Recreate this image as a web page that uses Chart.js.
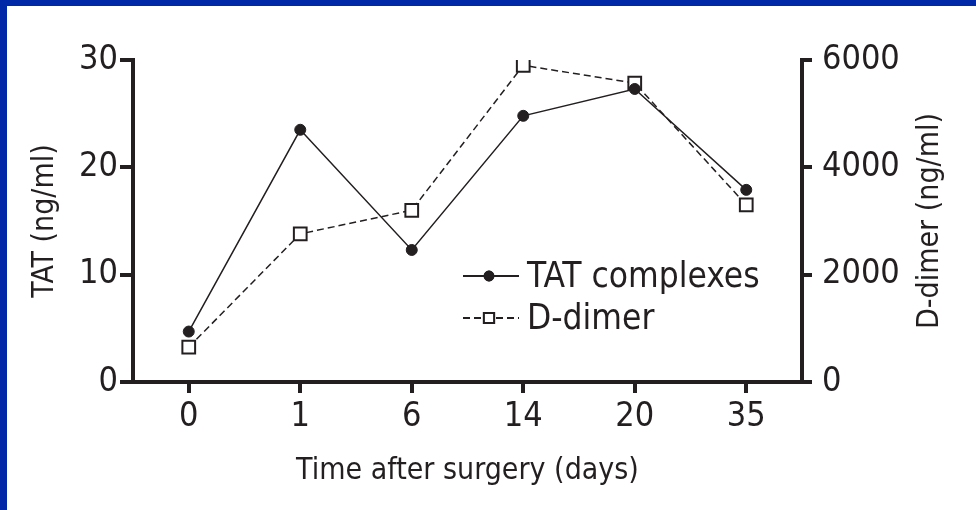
<!DOCTYPE html>
<html>
<head>
<meta charset="utf-8">
<script src="https://cdn.jsdelivr.net/npm/chart.js@4/dist/chart.umd.min.js"></script>
<style>
    html, body { margin: 0; padding: 0; background: #0029a8; }
    #wrap { position: absolute; left: 7px; top: 6px; width: 969px; height: 504px; background: #fff; }
</style>
</head>
<body>
<div id="wrap"><canvas id="canvas1"></canvas></div>
<script>
// data
var days = ["0", "1", "6", "14", "20", "35"];
var tatValues = [4.7, 23.5, 12.3, 24.8, 27.3, 17.9];       // ng/ml, left axis
var ddimerValues = [650, 2760, 3200, 5900, 5570, 3300];     // ng/ml, right axis
var tatTicks = [0, 10, 20, 30];
var ddimerTicks = [0, 2000, 4000, 6000];

var ink = '#231f20';
var fontFamily = '"Liberation Sans Narrow", "DejaVu Sans Condensed", sans-serif';

Chart.defaults.font.family = fontFamily;
Chart.defaults.color = ink;

// right axis title (reads bottom to top) and the in-plot legend
var extras = {
    id: 'extras',
    afterDraw: function(chart) {
        var ctx = chart.ctx;
        var area = chart.chartArea;
        ctx.save();
        ctx.fillStyle = ink;
        ctx.font = '30px ' + fontFamily;
        ctx.textAlign = 'center';
        ctx.textBaseline = 'middle';
        ctx.translate(923, (area.top + area.bottom) / 2);
        ctx.rotate(-Math.PI / 2);
        ctx.fillText('D-dimer (ng/ml)', 0, 0);
        ctx.restore();

        var rows = [{ y: 270, ds: chart.data.datasets[0] }, { y: 312, ds: chart.data.datasets[1] }];
        ctx.save();
        rows.forEach(function(r) {
            ctx.strokeStyle = ink;
            ctx.lineWidth = 2;
            ctx.setLineDash(r.ds.borderDash || []);
            ctx.beginPath();
            ctx.moveTo(456, r.y);
            ctx.lineTo(512, r.y);
            ctx.stroke();
            ctx.setLineDash([]);
            Chart.helpers.drawPoint(ctx, {
                pointStyle: r.ds.pointStyle,
                radius: r.ds.pointRadius * 0.8,
                borderWidth: r.ds.pointBorderWidth
            }, 482, r.y);
            ctx.fillStyle = r.ds.pointBackgroundColor;
            ctx.fill();
            ctx.stroke();
            ctx.fillStyle = ink;
            ctx.font = '35px ' + fontFamily;
            ctx.textAlign = 'left';
            ctx.textBaseline = 'middle';
            ctx.fillText(r.ds.label, 520, r.y + 2);
        });
        ctx.restore();
    }
};

var ctx = document.getElementById("canvas1").getContext("2d");
window.myLine = new Chart(ctx, {
    type: 'line',
    data: {
        labels: days,
        datasets: [{
            label: 'TAT complexes',
            data: tatValues,
            yAxisID: 'y',
            borderColor: ink,
            borderWidth: 1.5,
            pointStyle: 'circle',
            pointRadius: 5.5,
            pointBorderWidth: 1,
            pointBackgroundColor: ink,
            pointBorderColor: ink,
            tension: 0
        }, {
            label: 'D-dimer',
            data: ddimerValues,
            yAxisID: 'y1',
            borderColor: ink,
            borderWidth: 1.5,
            borderDash: [7, 4],
            pointStyle: 'rect',
            pointRadius: 9,
            pointBorderWidth: 2,
            pointBackgroundColor: '#fff',
            pointBorderColor: ink,
            tension: 0
        }]
    },
    options: {
        responsive: true,
        maintainAspectRatio: false,
        animation: false,
        layout: { padding: { top: 54, right: 0, left: 0, bottom: 17 } },
        plugins: {
            legend: { display: false },
            tooltip: { enabled: false }
        },
        scales: {
            x: {
                type: 'category',
                offset: true,
                border: { display: true, width: 4, color: ink },
                grid: { drawOnChartArea: false, drawTicks: true, tickLength: 11, lineWidth: 4, color: ink },
                ticks: { font: { size: 34 }, color: ink, padding: 4 },
                title: { display: true, text: 'Time after surgery (days)', font: { size: 30 }, color: ink, padding: { top: 4 } },
                afterFit: function(scale) { scale.height = 111; }
            },
            y: {
                position: 'left',
                min: 0,
                max: 30,
                afterBuildTicks: function(scale) {
                    scale.ticks = tatTicks.map(function(v) { return { value: v }; });
                },
                border: { display: true, width: 4, color: ink },
                grid: { drawOnChartArea: false, drawTicks: true, tickLength: 13, lineWidth: 4, color: ink },
                ticks: { font: { size: 34 }, color: ink, padding: 2 },
                title: { display: true, text: 'TAT (ng/ml)', font: { size: 30 }, color: ink, padding: { top: 20 } },
                afterFit: function(scale) { scale.width = 126; }
            },
            y1: {
                position: 'right',
                min: 0,
                max: 6000,
                afterBuildTicks: function(scale) {
                    scale.ticks = ddimerTicks.map(function(v) { return { value: v }; });
                },
                border: { display: true, width: 4, color: ink },
                grid: { drawOnChartArea: false, drawTicks: true, tickLength: 10, lineWidth: 4, color: ink },
                ticks: {
                    font: { size: 34 },
                    color: ink,
                    padding: 10,
                    callback: function(value) { return String(value); }
                },
                afterFit: function(scale) { scale.width = 174; }
            }
        }
    },
    plugins: [extras]
});
</script>
</body>
</html>
